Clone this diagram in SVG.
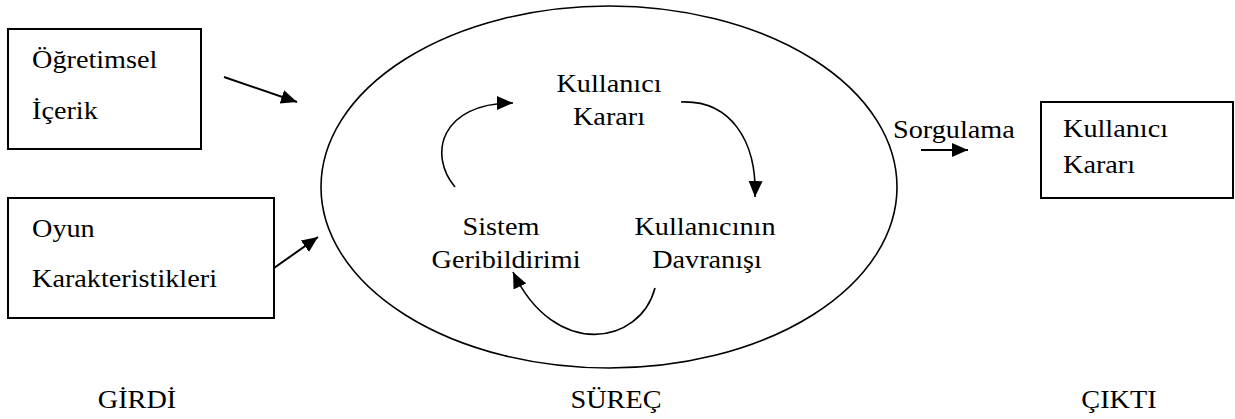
<svg xmlns="http://www.w3.org/2000/svg" width="1235" height="419" viewBox="0 0 1235 419">
<style>
.box{fill:#fff;stroke:#000;stroke-width:2}
.t{font-family:"Liberation Serif","DejaVu Serif","Times New Roman",serif;font-size:25px;fill:#000}
.c{text-anchor:middle}
.ln{fill:none;stroke:#000;stroke-width:2}
.arc{fill:none;stroke:#000;stroke-width:1.6}
</style>
<defs>
<marker id="ah" markerUnits="userSpaceOnUse" markerWidth="18" markerHeight="16" refX="16" refY="7" orient="auto">
<path d="M0,0 L16,7 L0,14 Z" fill="#000"/>
</marker>
</defs>
<rect width="1235" height="419" fill="#fff"/>
<g id="n-ogretimsel">
<rect class="box" x="8" y="29" width="193" height="120"/>
<text class="t" transform="translate(32,68) scale(1.13,1)">Öğretimsel</text>
<text class="t" transform="translate(32,119) scale(1.13,1)">İçerik</text>
</g>
<g id="n-oyun">
<rect class="box" x="8" y="198" width="266" height="120"/>
<text class="t" transform="translate(32,237) scale(1.13,1)">Oyun</text>
<text class="t" transform="translate(32,287) scale(1.13,1)">Karakteristikleri</text>
</g>
<g id="n-surec">
<ellipse cx="609" cy="187" rx="288" ry="181" fill="none" stroke="#000" stroke-width="1.6"/>
</g>
<g id="n-karar">
<text class="t c" transform="translate(609,92) scale(1.13,1)">Kullanıcı</text>
<text class="t c" transform="translate(609,125) scale(1.13,1)">Kararı</text>
</g>
<g id="n-sistem">
<text class="t c" transform="translate(501,235) scale(1.13,1)">Sistem</text>
<text class="t c" transform="translate(506,268) scale(1.13,1)">Geribildirimi</text>
</g>
<g id="n-davranis">
<text class="t c" transform="translate(705,235) scale(1.13,1)">Kullanıcının</text>
<text class="t c" transform="translate(707,268) scale(1.13,1)">Davranışı</text>
</g>
<g id="n-cikti">
<rect class="box" x="1041" y="102" width="192" height="96"/>
<text class="t" transform="translate(1063,137) scale(1.13,1)">Kullanıcı</text>
<text class="t" transform="translate(1063,173) scale(1.13,1)">Kararı</text>
</g>
<g id="labels">
<text class="t" transform="translate(893,138) scale(1.13,1)">Sorgulama</text>
<text class="t c" transform="translate(137,408) scale(1.13,1)">GİRDİ</text>
<text class="t c" transform="translate(616,408) scale(1.13,1)">SÜREÇ</text>
<text class="t c" transform="translate(1119,408) scale(1.13,1)">ÇIKTI</text>
</g>
<g id="connectors">
<line class="ln" x1="224" y1="77" x2="297" y2="102" marker-end="url(#ah)"/>
<line class="ln" x1="274" y1="268" x2="318" y2="237" marker-end="url(#ah)"/>
<line class="ln" x1="921" y1="150" x2="968" y2="150" marker-end="url(#ah)"/>
<path class="arc" d="M455,187 C428,155 440,103 513,103" marker-end="url(#ah)"/>
<path class="arc" d="M681,102 C730,100 757,140 755,197" marker-end="url(#ah)"/>
<path class="arc" d="M655,288 C640,345 555,360 513,272" marker-end="url(#ah)"/>
</g>
</svg>
